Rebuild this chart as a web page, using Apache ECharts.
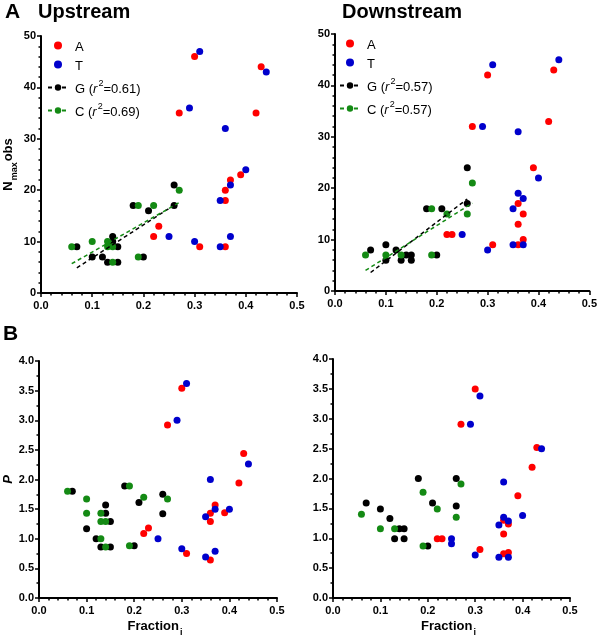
<!DOCTYPE html>
<html>
<head>
<meta charset="utf-8">
<script src="https://cdn.jsdelivr.net/npm/echarts@6/dist/echarts.min.js"></script>
<style>html,body{margin:0;padding:0;background:#fff;}#c{width:600px;height:638px;}</style>
</head>
<body>
<div id="c"></div>
<script>
// ---------- DATA ----------
const xTickLabels = ['0.0','0.1','0.2','0.3','0.4','0.5'];
// Panel A Upstream (N max obs)
const upN_A = [[0.30,46],[0.27,35],[0.43,44],[0.42,35],[0.39,23],[0.37,22],[0.36,20],[0.36,18],[0.23,13],[0.22,11],[0.31,9],[0.36,9]];
const upN_T = [[0.31,47],[0.44,43],[0.29,36],[0.36,32],[0.40,24],[0.37,21],[0.35,18],[0.25,11],[0.37,11],[0.30,10],[0.35,9]];
const upN_G = [[0.26,21],[0.18,17],[0.26,17],[0.21,16],[0.14,11],[0.14,10],[0.07,9],[0.15,9],[0.10,7],[0.12,7],[0.20,7],[0.13,6],[0.15,6]];
const upN_C = [[0.27,20],[0.19,17],[0.22,17],[0.06,9],[0.10,10],[0.13,10],[0.13,9],[0.14,9],[0.19,7],[0.14,6]];
const upFit_G = [[0.07,4.9],[0.26,17.1]];
const upFit_C = [[0.06,5.7],[0.27,17.6]];
// Panel A Downstream
const dnN_A = [[0.30,42],[0.43,43],[0.27,32],[0.42,33],[0.39,24],[0.36,17],[0.37,15],[0.36,13],[0.37,10],[0.36,9],[0.31,9],[0.22,11],[0.23,11]];
const dnN_T = [[0.31,44],[0.44,45],[0.29,32],[0.36,31],[0.40,22],[0.36,19],[0.37,18],[0.35,16],[0.25,11],[0.35,9],[0.37,9],[0.30,8]];
const dnN_G = [[0.26,24],[0.26,17],[0.18,16],[0.21,16],[0.07,8],[0.10,9],[0.10,6],[0.12,8],[0.13,6],[0.14,7],[0.15,7],[0.15,6],[0.20,7]];
const dnN_C = [[0.27,21],[0.26,15],[0.19,16],[0.22,15],[0.06,7],[0.10,7],[0.13,7],[0.19,7]];
const dnFit_G = [[0.07,3.6],[0.26,17.9]];
const dnFit_C = [[0.06,4.0],[0.27,17.1]];
// Panel B Upstream (P)
const upP_A = [[0.30,3.54],[0.27,2.92],[0.43,2.44],[0.42,1.94],[0.37,1.57],[0.39,1.44],[0.36,1.43],[0.36,1.29],[0.23,1.18],[0.22,1.09],[0.31,0.75],[0.36,0.64]];
const upP_T = [[0.31,3.62],[0.29,3.00],[0.44,2.26],[0.36,2.00],[0.37,1.50],[0.40,1.50],[0.35,1.37],[0.25,1.00],[0.30,0.83],[0.37,0.79],[0.35,0.69]];
const upP_G = [[0.07,1.80],[0.18,1.89],[0.26,1.75],[0.21,1.61],[0.14,1.57],[0.14,1.43],[0.26,1.42],[0.15,1.29],[0.10,1.17],[0.12,1.00],[0.13,0.86],[0.15,0.86],[0.20,0.88]];
const upP_C = [[0.06,1.80],[0.10,1.67],[0.10,1.43],[0.13,1.43],[0.13,1.29],[0.14,1.29],[0.13,1.00],[0.14,0.86],[0.19,1.89],[0.19,0.88],[0.22,1.70],[0.27,1.67]];
// Panel B Downstream
const dnP_A = [[0.30,3.50],[0.27,2.91],[0.43,2.52],[0.42,2.19],[0.39,1.71],[0.36,1.30],[0.37,1.24],[0.36,1.07],[0.31,0.81],[0.36,0.74],[0.37,0.76],[0.22,0.99],[0.23,0.99]];
const dnP_T = [[0.31,3.38],[0.29,2.91],[0.44,2.50],[0.36,1.94],[0.40,1.38],[0.36,1.35],[0.37,1.29],[0.35,1.22],[0.25,0.99],[0.25,0.91],[0.30,0.72],[0.35,0.68],[0.37,0.68]];
const dnP_G = [[0.07,1.59],[0.10,1.49],[0.12,1.33],[0.14,1.16],[0.15,1.16],[0.13,0.99],[0.15,0.99],[0.18,2.00],[0.21,1.59],[0.20,0.87],[0.26,2.00],[0.26,1.54]];
const dnP_C = [[0.06,1.40],[0.10,1.16],[0.13,1.16],[0.19,1.77],[0.19,0.87],[0.22,1.49],[0.26,1.35],[0.27,1.91]];
// legend r^2 values
const r2Up = {G:'0.61', C:'0.69'};
const r2Dn = {G:'0.57', C:'0.57'};

// ---------- STYLE ----------
const FF = 'Arial, "Liberation Sans", Helvetica, sans-serif';
const COL = {A:'#ff0000', T:'#0000cc', G:'#000000', C:'#148a14'};
const SYM = 7;

function xAx(gi, withName){
  const o = {
    type:'value', gridIndex:gi, min:0, max:0.5, interval:0.1,
    axisLine:{show:true, onZero:false, lineStyle:{color:'#000', width:2}},
    axisTick:{show:true, length:4, lineStyle:{color:'#000', width:1.5}},
    minorTick:{show:true, splitNumber:5, length:2.5, lineStyle:{color:'#000', width:1.5}},
    splitLine:{show:false},
    axisLabel:{formatter:(v)=>xTickLabels[Math.round(v*10)], fontSize:11, fontWeight:'bold', color:'#000', fontFamily:FF, margin:7}
  };
  if (withName){
    o.name = '{b|Fraction}{s|i}';
    o.nameLocation = 'middle';
    o.nameGap = 21;
    o.nameTextStyle = {fontFamily:FF, color:'#000', padding:[0,6,0,0], rich:{
      b:{fontSize:13, fontWeight:'bold', fontFamily:FF, color:'#000', lineHeight:18, verticalAlign:'top', padding:[1,0,0,0]},
      s:{fontSize:9, fontWeight:'bold', fontFamily:FF, color:'#000', lineHeight:18, verticalAlign:'bottom', padding:[0,0,0,1]}
    }};
  }
  return o;
}
function yAx(gi, max, interval, minorSplit, digits, name, nameGap){
  const o = {
    type:'value', gridIndex:gi, min:0, max:max, interval:interval,
    axisLine:{show:true, onZero:false, lineStyle:{color:'#000', width:2}},
    axisTick:{show:true, length:4, lineStyle:{color:'#000', width:1.5}},
    minorTick:{show:true, splitNumber:minorSplit, length:2.5, lineStyle:{color:'#000', width:1.5}},
    splitLine:{show:false},
    axisLabel:{formatter:(v)=>v.toFixed(digits), fontSize:11, fontWeight:'bold', color:'#000', fontFamily:FF, margin:5}
  };
  if (name){
    o.name = name;
    o.nameLocation = 'middle';
    o.nameGap = nameGap;
    o.nameRotate = 90;
    o.nameTextStyle = {fontFamily:FF, color:'#000', rich:{
      b:{fontSize:13, fontWeight:'bold', fontFamily:FF, color:'#000', lineHeight:18, verticalAlign:'top', padding:[1,0,0,0]},
      s:{fontSize:9, fontWeight:'bold', fontFamily:FF, color:'#000', lineHeight:18, verticalAlign:'bottom', padding:[0,1,0,1]},
      p:{fontSize:13, fontWeight:'bold', fontStyle:'italic', fontFamily:FF, color:'#000'}
    }};
  }
  return o;
}
function sc(name, data, key, gi){
  return {type:'scatter', name:name, data:data, xAxisIndex:gi, yAxisIndex:gi,
    symbol:'circle', symbolSize:SYM, itemStyle:{color:COL[key], opacity:1}, z:4, silent:true};
}
function fit(name, data, key, gi){
  return {type:'line', name:name, data:data, xAxisIndex:gi, yAxisIndex:gi,
    symbol:'circle', symbolSize:SYM, showSymbol:false, silent:true, z:5,
    itemStyle:{color:COL[key]}, lineStyle:{color:COL[key], width:1.5, type:[4,3]}};
}

const legendRich = {
  t:{fontSize:13, fontFamily:FF, color:'#000', lineHeight:17, verticalAlign:'bottom'},
  i:{fontSize:13, fontFamily:FF, color:'#000', fontStyle:'italic', lineHeight:17, verticalAlign:'bottom', padding:[0,1,0,0]},
  sup:{fontSize:9, fontFamily:FF, color:'#000', lineHeight:17, verticalAlign:'top', padding:[0,0,0,0]}
};
function legendFmt(r2){
  return function(name){
    const k = name.charAt(0);
    if (k==='A' || k==='T') return '{t|' + k + '}';
    return '{t|' + k + ' (}{i|r}{sup|2}{t|=' + r2[k] + ')}';
  };
}
function legend(left, top, names, r2){
  return {show:true, orient:'vertical', left:left, top:top, itemWidth:20, itemHeight:8, itemGap:6,
    padding:0, selectedMode:false, data:names, formatter:legendFmt(r2),
    textStyle:{fontSize:13, fontFamily:FF, color:'#000', padding:[0,0,0,2], rich:legendRich}};
}

const option = {
  animation:false,
  backgroundColor:'#fff',
  title:[
    {text:'A', left:5, top:2, padding:0, textStyle:{fontSize:21, fontWeight:'bold', fontFamily:FF, color:'#000'}},
    {text:'Upstream', left:38, top:2, padding:0, textStyle:{fontSize:20, fontWeight:'bold', fontFamily:FF, color:'#000'}},
    {text:'Downstream', left:342, top:2, padding:0, textStyle:{fontSize:20, fontWeight:'bold', fontFamily:FF, color:'#000'}},
    {text:'B', left:3, top:324, padding:0, textStyle:{fontSize:21, fontWeight:'bold', fontFamily:FF, color:'#000'}}
  ],
  legend:[
    legend(47, 41, ['A','T','G up','C up'], r2Up),
    legend(339, 39, ['A ','T ','G dn','C dn'], r2Dn)
  ],
  grid:[
    {left:40, top:36, width:257, height:257},
    {left:335, top:34, width:255, height:257},
    {left:39, top:361, width:238, height:239},
    {left:333, top:359, width:237, height:239}
  ],
  xAxis:[xAx(0,false), xAx(1,false), xAx(2,true), xAx(3,true)],
  yAxis:[
    yAx(0, 50, 10, 5, 0, '{b|N}{s|max}{b|obs}', 22),
    yAx(1, 50, 10, 5, 0, null, 0),
    yAx(2, 4, 0.5, 2, 1, '{p|P}', 24),
    yAx(3, 4, 0.5, 2, 1, null, 0)
  ],
  series:[
    fit('G up', upFit_G, 'G', 0), fit('C up', upFit_C, 'C', 0),
    sc('A', upN_A, 'A', 0), sc('T', upN_T, 'T', 0), sc('G up', upN_G, 'G', 0), sc('C up', upN_C, 'C', 0),
    fit('G dn', dnFit_G, 'G', 1), fit('C dn', dnFit_C, 'C', 1),
    sc('A ', dnN_A, 'A', 1), sc('T ', dnN_T, 'T', 1), sc('G dn', dnN_G, 'G', 1), sc('C dn', dnN_C, 'C', 1),
    sc('A up P', upP_A, 'A', 2), sc('T up P', upP_T, 'T', 2), sc('G up P', upP_G, 'G', 2), sc('C up P', upP_C, 'C', 2),
    sc('A dn P', dnP_A, 'A', 3), sc('T dn P', dnP_T, 'T', 3), sc('G dn P', dnP_G, 'G', 3), sc('C dn P', dnP_C, 'C', 3)
  ]
};
const chart = echarts.init(document.getElementById('c'), null, {renderer:'canvas'});
chart.setOption(option);
</script>
</body>
</html>
